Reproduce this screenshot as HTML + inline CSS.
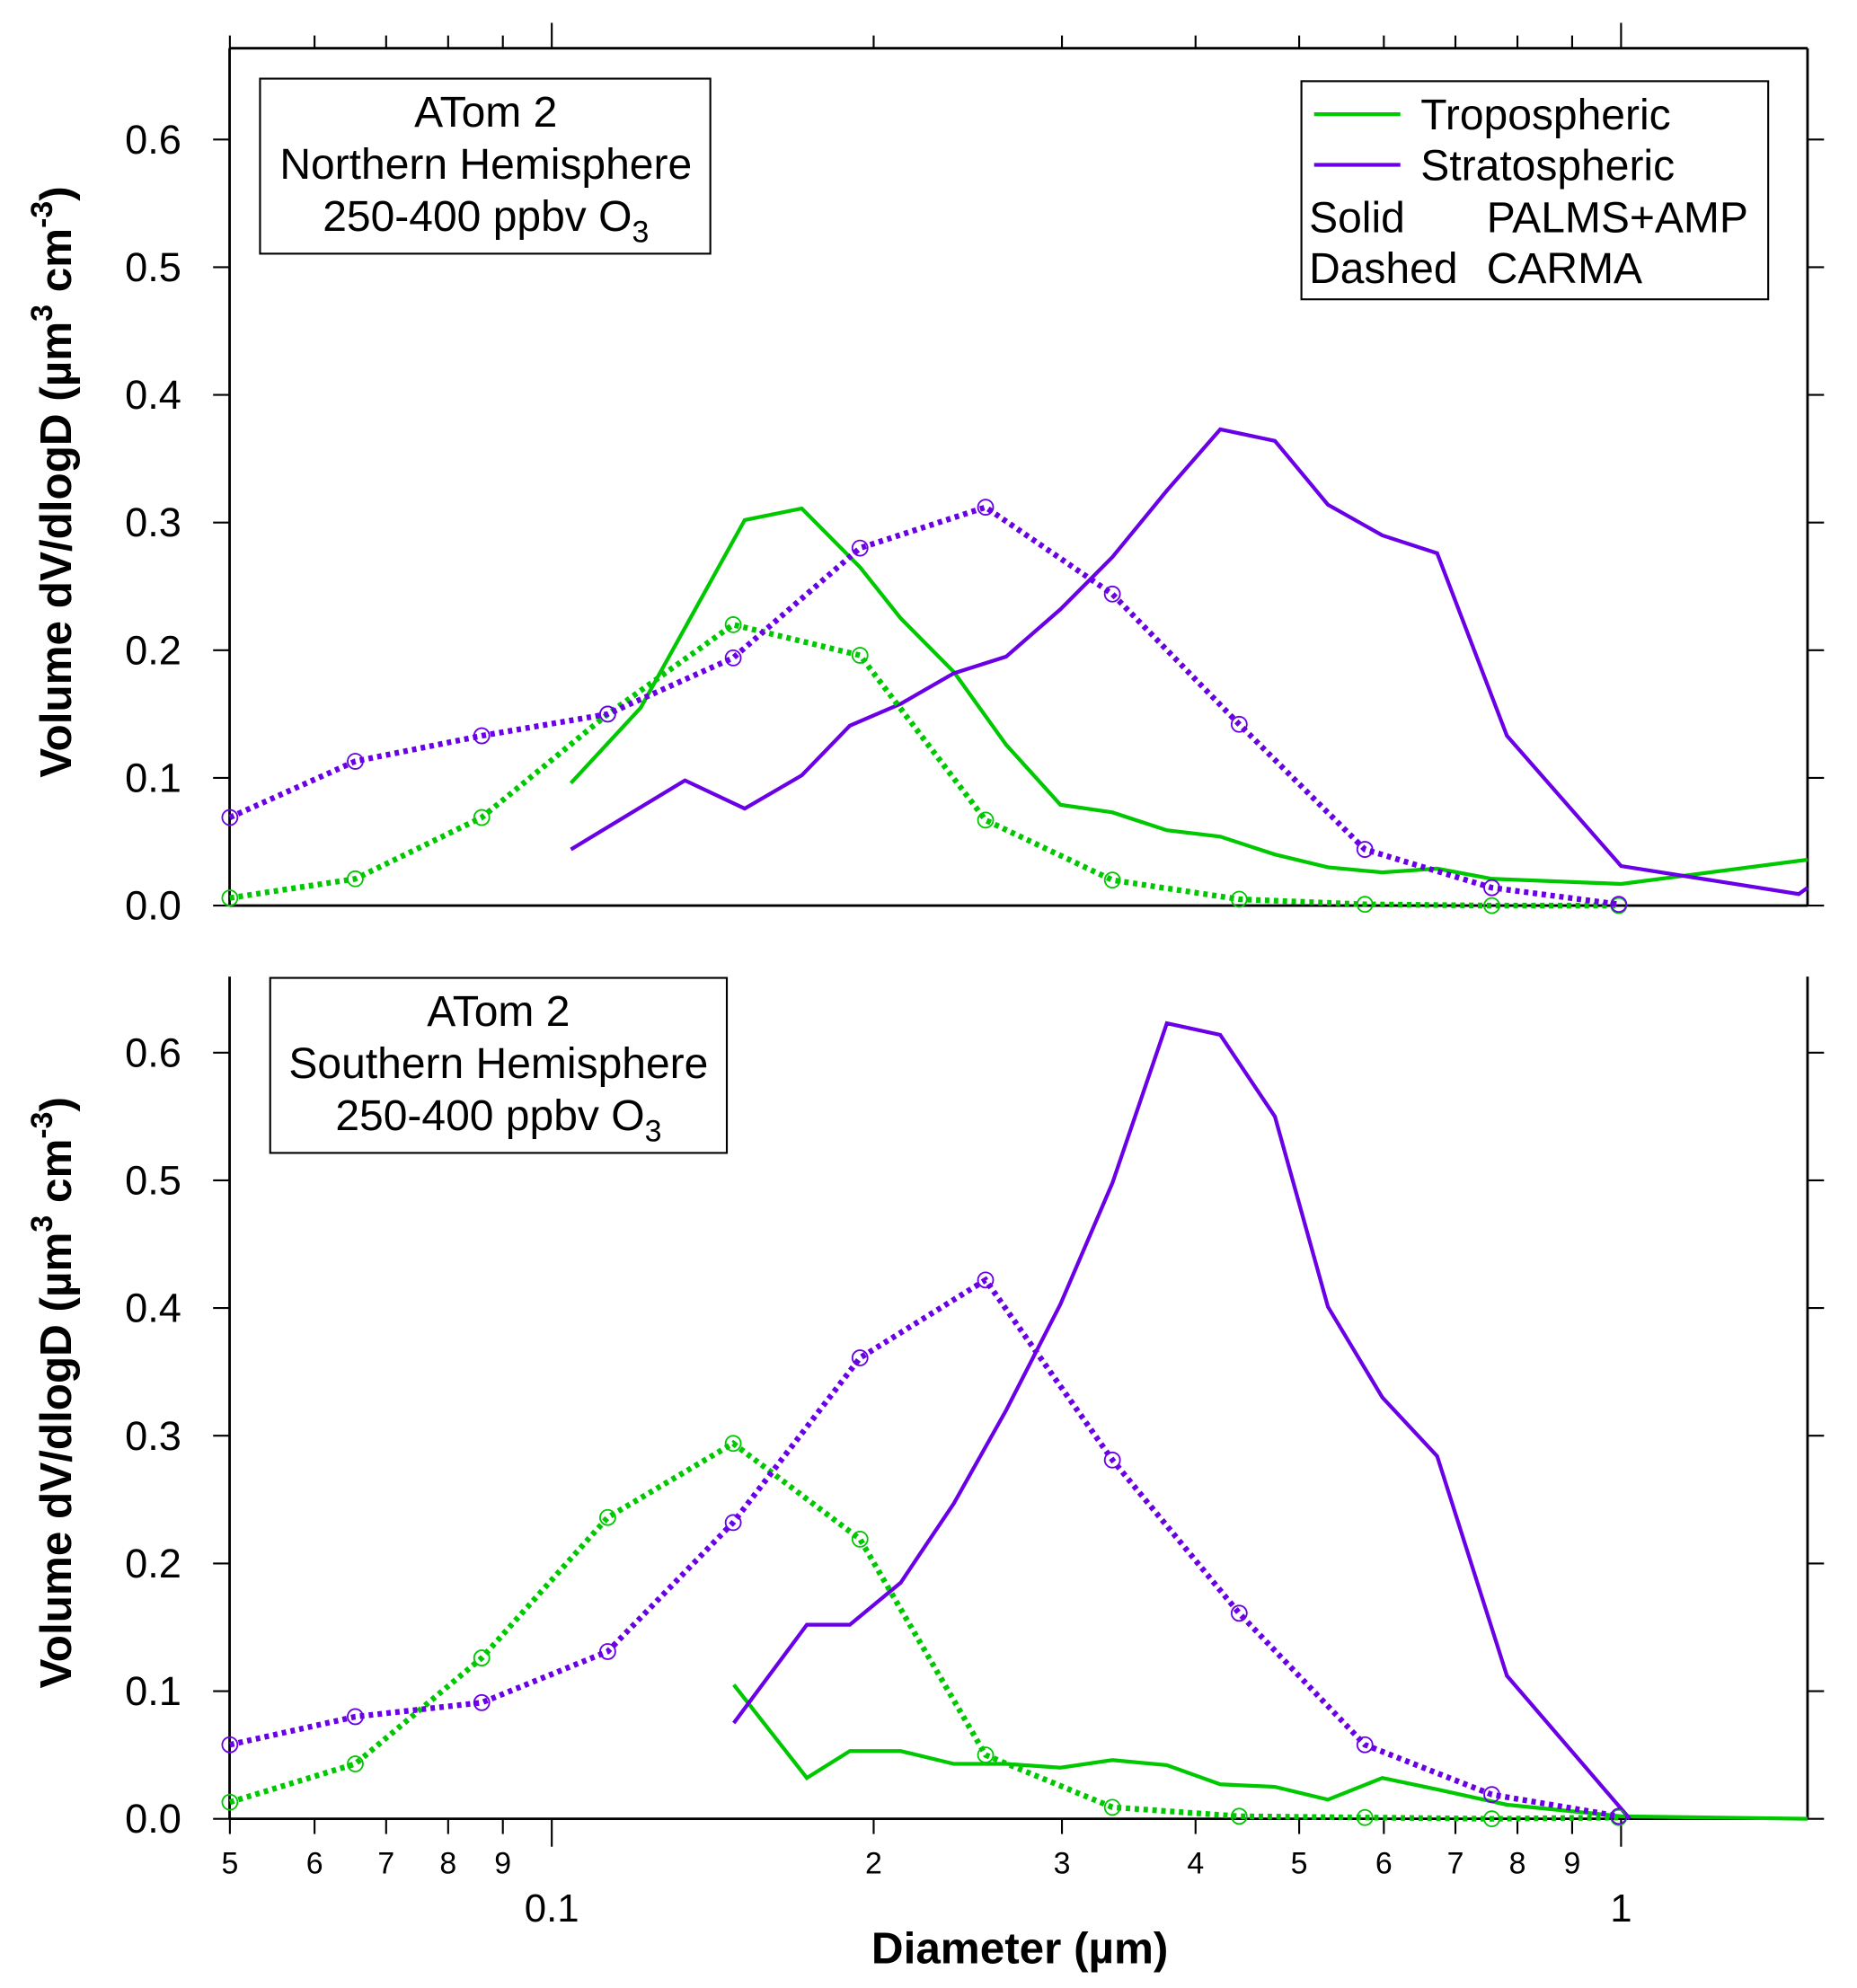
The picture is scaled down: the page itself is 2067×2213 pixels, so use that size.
<!DOCTYPE html>
<html><head><meta charset="utf-8"><style>
html,body{margin:0;padding:0;background:#fff}
svg{display:block;font-family:"Liberation Sans",Arial,sans-serif}
</style></head><body>
<svg id="chart" xmlns="http://www.w3.org/2000/svg" width="2067" height="2213" viewBox="0 0 1464 1567.4">
<rect width="1464" height="1568" fill="#fff"/>
<g id="axes"></g>
<g id="series"></g>
<g>
<rect x="205" y="62" width="355" height="138" fill="#fff" stroke="#000" stroke-width="1.5"/>
<text x="383" y="100" font-size="34" text-anchor="middle">ATom 2</text>
<text x="383" y="141" font-size="34" text-anchor="middle">Northern Hemisphere</text>
<text x="383" y="182" font-size="34" text-anchor="middle">250-400 ppbv O<tspan font-size="24" dy="9">3</tspan></text>
</g>
<g>
<rect x="213" y="771" width="360" height="138" fill="#fff" stroke="#000" stroke-width="1.5"/>
<text x="393" y="809" font-size="34" text-anchor="middle">ATom 2</text>
<text x="393" y="850" font-size="34" text-anchor="middle">Southern Hemisphere</text>
<text x="393" y="891" font-size="34" text-anchor="middle">250-400 ppbv O<tspan font-size="24" dy="9">3</tspan></text>
</g>
<g>
<rect x="1026" y="64" width="368" height="172" fill="#fff" stroke="#000" stroke-width="1.5"/>
<line x1="1036" y1="90" x2="1104" y2="90" stroke="#00c800" stroke-width="3"/>
<text x="1120" y="102" font-size="34">Tropospheric</text>
<line x1="1036" y1="130" x2="1104" y2="130" stroke="#6a00e6" stroke-width="3"/>
<text x="1120" y="142" font-size="34">Stratospheric</text>
<text x="1032" y="183" font-size="34">Solid</text><text x="1172" y="183" font-size="34">PALMS+AMP</text>
<text x="1032" y="223" font-size="34">Dashed</text><text x="1172" y="223" font-size="34">CARMA</text>
</g>
<text x="804" y="1548" font-size="35" font-weight="bold" text-anchor="middle">Diameter (µm)</text>
<text transform="translate(56,380) rotate(-90)" font-size="35" font-weight="bold" text-anchor="middle">Volume dV/dlogD (µm<tspan font-size="24" dy="-15">3</tspan><tspan dy="15"> cm</tspan><tspan font-size="24" dy="-15">-3</tspan><tspan dy="15">)</tspan></text>
<text transform="translate(56,1098) rotate(-90)" font-size="35" font-weight="bold" text-anchor="middle">Volume dV/dlogD (µm<tspan font-size="24" dy="-15">3</tspan><tspan dy="15"> cm</tspan><tspan font-size="24" dy="-15">-3</tspan><tspan dy="15">)</tspan></text>
</svg>
<script>
const carmaD=[0.050,0.0655,0.086,0.1128,0.1478,0.1942,0.2545,0.3344,0.4394,0.576,0.757,0.995];
const topCarmaTrop=[0.006,0.021,0.069,0.150,0.220,0.196,0.067,0.020,0.005,0.001,0.0,0.0];
const topCarmaStrat=[0.069,0.113,0.133,0.150,0.194,0.280,0.312,0.244,0.142,0.044,0.014,0.001];
const topSolidTropD=[0.1042,0.1211,0.1515,0.1713,0.1942,0.212,0.2377,0.266,0.299,0.3344,0.376,0.4218,0.4745,0.532,0.598,0.673,0.757,1.0,1.494];
const topSolidTrop=[0.096,0.155,0.302,0.311,0.265,0.225,0.183,0.126,0.079,0.073,0.059,0.054,0.040,0.030,0.026,0.029,0.021,0.017,0.036];
const topSolidStratD=[0.1042,0.1332,0.1515,0.1713,0.19,0.212,0.2377,0.266,0.299,0.3344,0.376,0.4218,0.4745,0.532,0.598,0.673,0.782,1.0,1.466,1.494];
const topSolidStrat=[0.044,0.098,0.076,0.102,0.141,0.158,0.182,0.195,0.232,0.273,0.325,0.373,0.364,0.314,0.290,0.276,0.133,0.031,0.009,0.014];
const botCarmaTrop=[0.013,0.043,0.126,0.236,0.294,0.219,0.050,0.009,0.002,0.001,0.0,0.001];
const botCarmaStrat=[0.058,0.080,0.091,0.131,0.232,0.361,0.422,0.281,0.161,0.058,0.019,0.002];
const botSolidD=[0.148,0.1732,0.19,0.212,0.2377,0.266,0.299,0.3344,0.376,0.4218,0.4745,0.532,0.598,0.673,0.782,1.0,1.494];
const botSolidTrop=[0.105,0.032,0.053,0.053,0.043,0.043,0.040,0.046,0.042,0.027,0.025,0.015,0.032,0.023,0.011,0.002,0.0];
const botSolidStratD=[0.148,0.1732,0.19,0.212,0.2377,0.266,0.299,0.3344,0.376,0.4218,0.4745,0.532,0.598,0.673,0.782,1.019];
const botSolidStrat=[0.075,0.152,0.152,0.185,0.247,0.320,0.403,0.498,0.623,0.614,0.550,0.401,0.330,0.284,0.112,0.0];
const yTicks=[0,0.1,0.2,0.3,0.4,0.5,0.6];
const yTickLabels=["0.0","0.1","0.2","0.3","0.4","0.5","0.6"];
const xMinor=[0.05,0.06,0.07,0.08,0.09,0.2,0.3,0.4,0.5,0.6,0.7,0.8,0.9];
const xMinorLabels=["5","6","7","8","9","2","3","4","5","6","7","8","9"];
const xMajor=[0.1,1];
const xMajorLabels=["0.1","1"];

const NS="http://www.w3.org/2000/svg";
const GREEN="#00c800",PURPLE="#6a00e6";
const X0=181,X1=1425;
const xs=d=>1278+843*Math.log10(d);
const panels=[{base:714,top:38},{base:1434,top:770}];
const ys=(p,v)=>panels[p].base-v*1006.7;
const axes=document.getElementById('axes'),ser=document.getElementById('series');
function mk(tag,attrs,parent){const e=document.createElementNS(NS,tag);for(const k in attrs)e.setAttribute(k,attrs[k]);parent.appendChild(e);return e;}
function line(x1,y1,x2,y2,w,parent){return mk('line',{x1,y1,x2,y2,stroke:'#000','stroke-width':w||1.5},parent);}

panels.forEach((P,p)=>{
  const g=mk('g',{},axes);
  
  
  line(X0,P.top,X0,P.base,2,g);
  line(X1,P.top,X1,P.base,2,g);
  line(X0,P.base,X1,P.base,2,g);
  yTicks.forEach((v,i)=>{
    const y=ys(p,v);
    line(X0-13,y,X0,y,1.5,g);line(X1,y,X1+13,y,1.5,g);
    const t=mk('text',{x:X0-38,y:y+11,'font-size':32,'text-anchor':'end'},g);
    
    
    t.textContent=yTickLabels[i];
  });
});
line(X0,38,X1,38,2,axes);
xMinor.forEach(d=>line(xs(d),38,xs(d),28,1.5,axes));
xMajor.forEach(d=>line(xs(d),38,xs(d),18,1.5,axes));
xMinor.forEach((d,i)=>{
  line(xs(d),1434,xs(d),1446,1.5,axes);
  const t=mk('text',{x:xs(d),y:1477,'font-size':24,'text-anchor':'middle'},axes);
  
  
  t.textContent=xMinorLabels[i];
});
xMajor.forEach((d,i)=>{
  line(xs(d),1434,xs(d),1456,1.5,axes);
  const t=mk('text',{x:xs(d),y:1515,'font-size':31,'text-anchor':'middle'},axes);
  
  
  t.textContent=xMajorLabels[i];
});

function path(p,D,V,color,dashed,name){
  const pts=D.map((d,i)=>xs(d).toFixed(1)+','+ys(p,V[i]).toFixed(1)).join(' ');
  const pl=mk('polyline',{points:pts,fill:'none',stroke:color,'stroke-width':dashed?4.5:3,'stroke-linejoin':'miter'},ser);
  if(dashed)pl.setAttribute('stroke-dasharray','3.5 3.5');
  
  
  if(dashed)D.forEach((d,i)=>{
    const c=mk('circle',{cx:xs(d),cy:ys(p,V[i]),r:6,fill:'none',stroke:color,'stroke-width':1.3},ser);
    
    
  });
}
path(0,topSolidTropD,topSolidTrop,GREEN,false,'top-palms-tropospheric-line');
path(0,topSolidStratD,topSolidStrat,PURPLE,false,'top-palms-stratospheric-line');
path(0,carmaD,topCarmaTrop,GREEN,true,'top-carma-tropospheric-line');
path(0,carmaD,topCarmaStrat,PURPLE,true,'top-carma-stratospheric-line');
path(1,botSolidD,botSolidTrop,GREEN,false,'bottom-palms-tropospheric-line');
path(1,botSolidStratD,botSolidStrat,PURPLE,false,'bottom-palms-stratospheric-line');
path(1,carmaD,botCarmaTrop,GREEN,true,'bottom-carma-tropospheric-line');
path(1,carmaD,botCarmaStrat,PURPLE,true,'bottom-carma-stratospheric-line');
</script>
</body></html>
